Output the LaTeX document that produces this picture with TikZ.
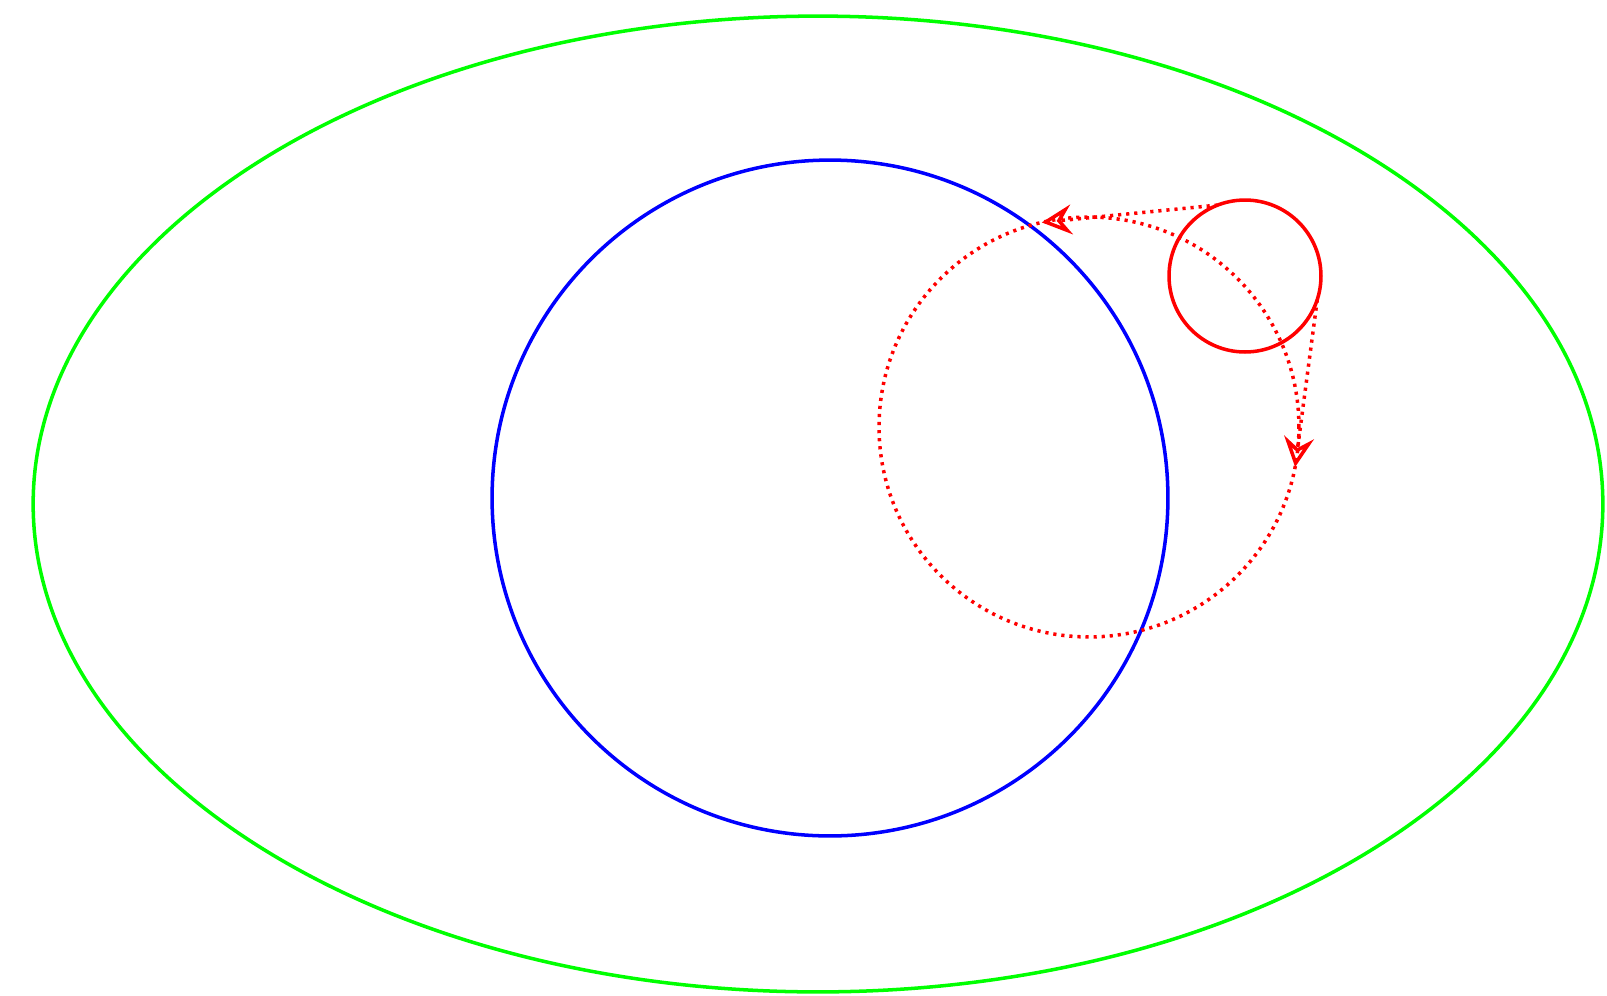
\documentclass[tikz,border=0pt]{standalone}
\usetikzlibrary{arrows.meta,shapes.geometric}
\begin{document}
\begin{tikzpicture}[x=0.02cm,y=-0.02cm,
  ring/.style={draw, circle, inner sep=0pt, outer sep=0pt, line width=2pt},
  dotline/.style={red, line width=2pt, dash pattern=on 1.8pt off 2.8pt},
  arr/.style={dotline, -{Stealth[open, length=17pt, width=17pt, inset=6pt]}}]
\useasboundingbox (0,0) rectangle (1607,995);
\node[draw=green, ellipse, inner sep=0pt, outer sep=0pt, line width=2pt,
  minimum width=31.4cm, minimum height=19.52cm] (outer) at (818,504) {};
\node[ring, draw=blue, minimum size=13.52cm] (inner) at (830,498) {};
\node[ring, draw=red, minimum size=3.04cm] (moon) at (1245,276) {};
\node[ring, draw=red, dotline, minimum size=8.4cm] (orbit) at (1089,427) {};
\draw[arr] (moon.111) -- (orbit.103.5);
\draw[arr] (moon.-18) -- (orbit.-11.7);
\end{tikzpicture}
\end{document}
